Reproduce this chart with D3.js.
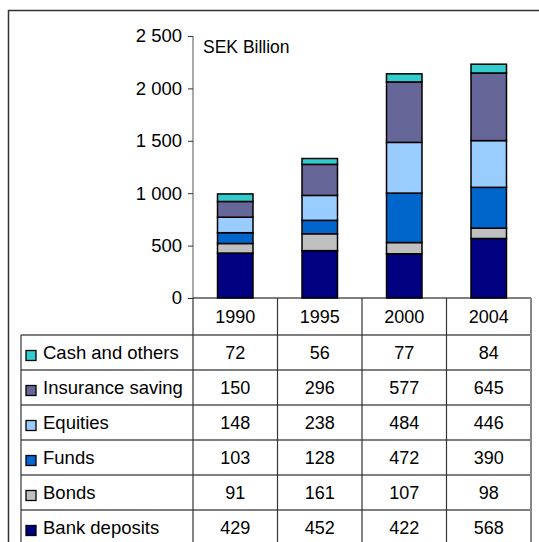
<!DOCTYPE html>
<html>
<head>
<meta charset="utf-8">
<script src="https://cdn.jsdelivr.net/npm/d3@7"></script>
<style>
  html, body { margin: 0; padding: 0; background: #fff; }
  svg { display: block; font-family: "Liberation Sans", Arial, sans-serif; }
</style>
</head>
<body>
<svg id="chart" width="539" height="542"></svg>
<script>
// data
var years = ["1990", "1995", "2000", "2004"];
// listed bottom of the stack first
var seriesNames = ["Bank deposits", "Bonds", "Funds", "Equities", "Insurance saving", "Cash and others"];
var bankDeposits    = [429, 452, 422, 568];
var bonds           = [91, 161, 107, 98];
var funds           = [103, 128, 472, 390];
var equities        = [148, 238, 484, 446];
var insuranceSaving = [150, 296, 577, 645];
var cashOthers      = [72, 56, 77, 84];
var seriesColors = ["#000080", "#c0c0c0", "#0066cc", "#99ccff", "#666699", "#33cccc"];
var yTicks = [0, 500, 1000, 1500, 2000, 2500];
var unitLabel = "SEK Billion";

var seriesValues = [bankDeposits, bonds, funds, equities, insuranceSaving, cashOthers];

var rows = years.map(function(y, i) {
    var r = { year: y };
    seriesNames.forEach(function(s, j) { r[s] = seriesValues[j][i]; });
    return r;
});

var svg = d3.select("#chart");
var fontSize = 18;

// outer frame (runs off the right and bottom of the picture)
svg.append("rect")
    .attr("x", 8.5).attr("y", 10.5)
    .attr("width", 545).attr("height", 545)
    .attr("fill", "none")
    .attr("stroke", "#333")
    .attr("stroke-width", 1.5);

var plotLeft = 193, plotRight = 531;
var y = d3.scaleLinear().domain([0, 2500]).range([298, 36]);
var x = d3.scaleBand().domain(years).range([plotLeft, plotRight]).padding(0);
var barW = x.bandwidth() * 0.42;

var fmt = d3.formatLocale({ decimal: ",", thousands: "\u00a0", grouping: [3], currency: ["", ""] }).format(",d");

// y axis
var yAxis = d3.axisLeft(y).tickValues(yTicks).tickSize(5).tickPadding(6).tickFormat(fmt);
var gy = svg.append("g").attr("transform", "translate(" + plotLeft + ",0)").call(yAxis);
gy.select(".domain").attr("stroke", "#555").attr("d", "M0," + y(2500) + "V" + y(0));
gy.selectAll(".tick line").attr("stroke", "#333");
gy.selectAll(".tick text")
    .attr("font-size", 18.5)
    .attr("font-family", "Liberation Sans, Arial, sans-serif")
    .attr("fill", "#000");

svg.append("text")
    .attr("x", 203).attr("y", 53)
    .attr("font-size", 17.5)
    .text(unitLabel);

// stacked bars
var stack = d3.stack().keys(seriesNames);
var layers = stack(rows);

svg.append("g").selectAll("g")
    .data(layers)
    .enter().append("g")
    .attr("fill", function(d, i) { return seriesColors[i]; })
    .selectAll("rect")
    .data(function(d) { return d; })
    .enter().append("rect")
    .attr("x", function(d) { return x(d.data.year) + (x.bandwidth() - barW) / 2; })
    .attr("y", function(d) { return y(d[1]); })
    .attr("width", barW)
    .attr("height", function(d) { return y(d[0]) - y(d[1]); })
    .attr("stroke", "#000")
    .attr("stroke-width", 1.5);

// data table under the plot
var headerTop = 298, headerBottom = 335, rowH = 35, tableLeft = 21;
var tableOrder = seriesNames.slice().reverse();
var nRows = tableOrder.length;
var rowIdx = d3.range(nRows);
var tableBottom = headerBottom + nRows * rowH;
var rowY = d3.scaleBand().domain(rowIdx).range([headerBottom, tableBottom]);

var table = svg.append("g");

// horizontal lines
table.append("line")
    .attr("x1", plotLeft).attr("x2", plotRight)
    .attr("y1", headerTop).attr("y2", headerTop)
    .attr("stroke", "#000").attr("stroke-width", 1.2);
table.selectAll("line.h")
    .data(d3.range(nRows + 1))
    .enter().append("line")
    .attr("class", "h")
    .attr("x1", tableLeft).attr("x2", plotRight)
    .attr("y1", function(i) { return headerBottom + i * rowH; })
    .attr("y2", function(i) { return headerBottom + i * rowH; })
    .attr("stroke", "#000").attr("stroke-width", 1.2);

// vertical lines
table.append("line")
    .attr("x1", tableLeft).attr("x2", tableLeft)
    .attr("y1", headerBottom).attr("y2", tableBottom)
    .attr("stroke", "#333").attr("stroke-width", 1.2);
table.selectAll("line.v")
    .data(years)
    .enter().append("line")
    .attr("class", "v")
    .attr("x1", function(d) { return x(d); }).attr("x2", function(d) { return x(d); })
    .attr("y1", headerTop).attr("y2", tableBottom)
    .attr("stroke", "#333").attr("stroke-width", 1.2);
table.append("line")
    .attr("x1", plotRight).attr("x2", plotRight)
    .attr("y1", headerTop).attr("y2", tableBottom)
    .attr("stroke", "#888").attr("stroke-width", 2);

// year header
table.selectAll("text.year")
    .data(years)
    .enter().append("text")
    .attr("class", "year")
    .attr("x", function(d) { return x(d) + x.bandwidth() / 2; })
    .attr("y", (headerTop + headerBottom) / 2 + 6)
    .attr("text-anchor", "middle")
    .attr("font-size", fontSize)
    .text(function(d) { return d; });

// legend keys + labels
var legendRows = table.selectAll("g.lrow")
    .data(tableOrder)
    .enter().append("g")
    .attr("class", "lrow")
    .attr("transform", function(d, i) { return "translate(0," + (rowY(i) + rowY.bandwidth() / 2) + ")"; });

legendRows.append("rect")
    .attr("x", 26).attr("y", -2)
    .attr("width", 10).attr("height", 10)
    .attr("fill", function(d) { return seriesColors[seriesNames.indexOf(d)]; })
    .attr("stroke", "#000").attr("stroke-width", 1.3);

legendRows.append("text")
    .attr("x", 43).attr("y", 6.5)
    .attr("font-size", 18.5)
    .text(function(d) { return d; });

legendRows.selectAll("text.val")
    .data(function(d) {
        var j = seriesNames.indexOf(d);
        return years.map(function(yr, i) { return { year: yr, v: seriesValues[j][i] }; });
    })
    .enter().append("text")
    .attr("class", "val")
    .attr("x", function(d) { return x(d.year) + x.bandwidth() / 2; })
    .attr("y", 6.5)
    .attr("text-anchor", "middle")
    .attr("font-size", fontSize)
    .text(function(d) { return d.v; });
</script>
</body>
</html>
